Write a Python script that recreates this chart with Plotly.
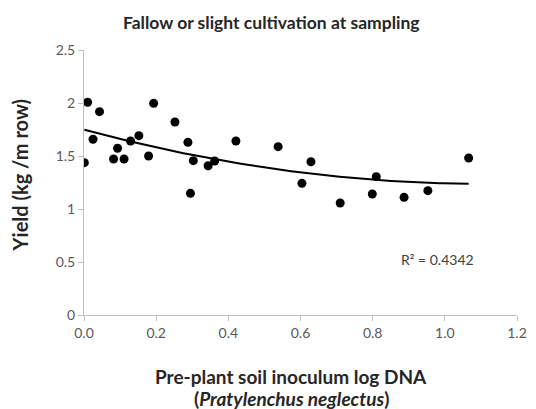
import numpy as np
import plotly.graph_objects as go

# Data
dna_log = [0.001, 0.010, 0.025, 0.043, 0.082, 0.093, 0.111, 0.129, 0.152, 0.179,
           0.193, 0.252, 0.288, 0.303, 0.295, 0.344, 0.362, 0.421, 0.538, 0.604,
           0.629, 0.710, 0.799, 0.810, 0.887, 0.953, 1.066]
yield_kg = [1.437, 2.007, 1.658, 1.918, 1.472, 1.573, 1.472, 1.642, 1.692, 1.500,
            1.997, 1.821, 1.629, 1.456, 1.148, 1.408, 1.453, 1.642, 1.588, 1.242,
            1.446, 1.057, 1.142, 1.305, 1.110, 1.173, 1.481]
x_ticks = [0.0, 0.2, 0.4, 0.6, 0.8, 1.0, 1.2]
x_tick_labels = ["0.0", "0.2", "0.4", "0.6", "0.8", "1.0", "1.2"]
y_ticks = [0, 0.5, 1, 1.5, 2, 2.5]
y_tick_labels = ["0", "0.5", "1", "1.5", "2", "2.5"]
r2_label = "R² = 0.4342"

# Second-order polynomial trendline (as in the original)
coef = np.polyfit(dna_log, yield_kg, 2)
xs = np.linspace(min(dna_log), max(dna_log), 120)
ys = np.polyval(coef, xs)

fig = go.Figure()
fig.add_trace(go.Scatter(x=xs, y=ys, mode="lines",
                         line=dict(color="black", width=2), hoverinfo="skip"))
fig.add_trace(go.Scatter(x=dna_log, y=yield_kg, mode="markers",
                         marker=dict(color="black", size=9)))

font_family = "Lato, 'Open Sans', sans-serif"
axis_color = "#bfbfbf"
tick_font = dict(family=font_family, size=14, color="#595959")

L, R, T, B = 84, 9.5, 50, 94
PW, PH = 536 - L - R, 409 - T - B


def px(xp):
    return (xp - L) / PW


def py(yp):
    return (409 - B - yp) / PH


fig.update_layout(
    width=536, height=409,
    margin=dict(l=L, r=R, t=T, b=B),
    paper_bgcolor="white", plot_bgcolor="white",
    showlegend=False,
    font=dict(family=font_family),
    xaxis=dict(range=[0, 1.2], tickvals=x_ticks, ticktext=x_tick_labels,
               showgrid=False, zeroline=False, showline=True,
               linecolor=axis_color, linewidth=1,
               ticks="outside", ticklen=5, tickcolor=axis_color,
               tickfont=tick_font),
    yaxis=dict(range=[0, 2.5], tickvals=y_ticks, ticktext=y_tick_labels,
               showgrid=False, zeroline=False, showline=True,
               linecolor=axis_color, linewidth=1,
               ticks="outside", ticklen=5, tickcolor=axis_color,
               tickfont=tick_font),
    annotations=[
        dict(text="<b>Fallow or slight cultivation at sampling</b>",
             xref="paper", yref="paper", x=px(276), y=py(22),
             xanchor="center", yanchor="middle", showarrow=False,
             font=dict(family=font_family, size=17.5, color="#262626")),
        dict(text="<b>Pre-plant soil inoculum log DNA</b>",
             xref="paper", yref="paper", x=px(296), y=py(376),
             xanchor="center", yanchor="middle", showarrow=False,
             font=dict(family=font_family, size=19, color="#262626")),
        dict(text="<b>(<i>Pratylenchus neglectus</i>)</b>",
             xref="paper", yref="paper", x=px(296), y=py(398),
             xanchor="center", yanchor="middle", showarrow=False,
             font=dict(family=font_family, size=19, color="#262626")),
        dict(text="<b>Yield (kg /m row)</b>",
             xref="paper", yref="paper", x=px(19), y=py(175),
             xanchor="center", yanchor="middle", showarrow=False, textangle=-90,
             font=dict(family=font_family, size=20, color="#262626")),
        dict(text=r2_label,
             xref="paper", yref="paper", x=px(445), y=py(259),
             xanchor="center", yanchor="middle", showarrow=False,
             font=dict(family=font_family, size=14, color="#404040")),
    ],
)

fig.write_html("out.html", config={"displayModeBar": False},
               post_script="document.body.style.margin='0';")
